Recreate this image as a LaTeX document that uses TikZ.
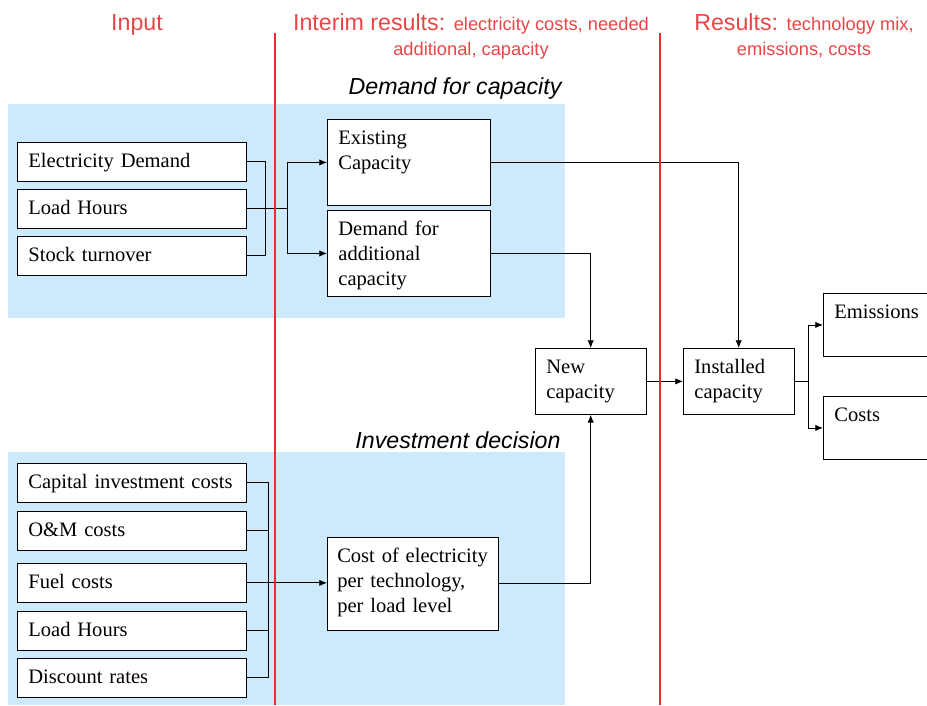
\documentclass[tikz,border=0pt]{standalone}
\usepackage{fontspec}
\setmainfont{Liberation Serif}
\newfontfamily\headfont{Liberation Sans}
\usetikzlibrary{arrows.meta}

\definecolor{hdred}{RGB}{232,70,70}
\definecolor{rulered}{RGB}{226,46,46}
\definecolor{panelblue}{RGB}{204,234,252}

\newcommand\smallhd[1]{{\fontsize{13}{17.8}\selectfont #1}}
\newcommand\boxfont{\fontsize{14.6}{17.8}\selectfont\hyphenpenalty=10000\relax\exhyphenpenalty=10000\relax}

\tikzset{
  box/.style={draw, fill=white, anchor=north west, align=left, line width=0.6pt,
    inner xsep=7.8pt, inner ysep=4pt, text height=14pt, text depth=#1,
    font=\boxfont},
  box/.default=5.7pt,
  inbox/.style={box=5.7pt, text width=147.3pt},
  midbox/.style={box=39.2pt, text width=100.3pt},
  smallbox/.style={box=24.9pt, text width=63pt},
  outbox/.style={box=22.8pt, text width=75pt},
  head/.style={text=hdred, inner sep=0pt, font=\headfont\fontsize{16.5}{17.8}\selectfont},
  title/.style={inner sep=0pt, font=\headfont\itshape\fontsize{16.5}{20}\selectfont},
  link/.style={line width=0.6pt},
  rule/.style={rulered, line width=1.8pt}
}

\begin{document}
\begin{tikzpicture}[x=0.025cm,y=-0.025cm,>={Latex[length=5.5pt,width=4.5pt]}]
  \useasboundingbox (0,0) rectangle (927,705);
  \clip (0,0) rectangle (927,705);

  % panels
  \fill[panelblue] (8,104) rectangle (565,318);
  \fill[panelblue] (8,452) rectangle (565,705);

  % column headings
  \node[head,anchor=base] (input) at (137,30) {Input};
  \node[head,anchor=north,align=center] (interim) at (471,13)
    {Interim results: \smallhd{electricity costs, needed}\\ \smallhd{additional, capacity}};
  \node[head,anchor=north,align=center] (results) at (804,13)
    {Results: \smallhd{technology mix,}\\ \smallhd{emissions, costs}};
  \node[title,anchor=base] (demtitle) at (455,94) {Demand for capacity};
  \node[title,anchor=base] (invtitle) at (458,448) {Investment decision};

  % demand inputs
  \node[inbox] (elec) at (17,142) {Electricity Demand};
  \node[inbox] (load1) at (17,189) {Load Hours};
  \node[inbox] (stock) at (17,236) {Stock turnover};

  % investment inputs
  \node[inbox] (capital) at (17,463) {Capital investment costs};
  \node[inbox] (om) at (17,511) {O\&M costs};
  \node[inbox] (fuel) at (17,563) {Fuel costs};
  \node[inbox] (load2) at (17,611) {Load Hours};
  \node[inbox] (disc) at (17,658) {Discount rates};

  % interim results
  \node[midbox] (exist) at (327,119) {Existing\\Capacity};
  \node[midbox] (addcap) at (327,210) {Demand for\\additional\\capacity};
  \node[box=44.1pt, text width=107.6pt, inner xsep=7pt] (coe) at (327,537)
    {\mbox{Cost of electricity}\\per technology,\\per load level};
  \node[smallbox] (newcap) at (535,348) {New\\capacity};

  % results
  \node[smallbox] (inst) at (683,348) {Installed\\capacity};
  \node[outbox] (emis) at (823,293) {Emissions};
  \node[outbox] (costs) at (823,396) {Costs};

  \coordinate (joinA) at (265,0);
  \coordinate (splitA) at (287,0);
  \coordinate (joinB) at (268,0);
  \coordinate (splitC) at (808,0);

  % connectors
  \draw[link] (elec.east) -- (elec.east -| joinA) -- (stock.east -| joinA) -- (stock.east);
  \draw[link,->] (load1.east) -- (load1.east -| splitA) |- (exist.west);
  \draw[link,->] (load1.east -| splitA) |- (addcap.west);
  \draw[link] (capital.east) -- (capital.east -| joinB) -- (disc.east -| joinB) -- (disc.east);
  \draw[link] (om.east) -- (om.east -| joinB);
  \draw[link] (load2.east) -- (load2.east -| joinB);
  \draw[link,->] (fuel.east) -- (coe.west |- fuel.east);
  \draw[link,->] (exist.east) -| (inst.north);
  \draw[link,->] (addcap.east) -| (newcap.north);
  \draw[link,->] (coe.east) -| (newcap.south);
  \draw[link,->] (newcap) -- (inst);
  \draw[link,->] (inst.east) -- (inst.east -| splitC) |- (emis.west);
  \draw[link,->] (inst.east -| splitC) |- (costs.west);

  % column rules
  \draw[rule] (275,33) -- (275,705);
  \draw[rule] (660,33) -- (660,705);
\end{tikzpicture}
\end{document}
